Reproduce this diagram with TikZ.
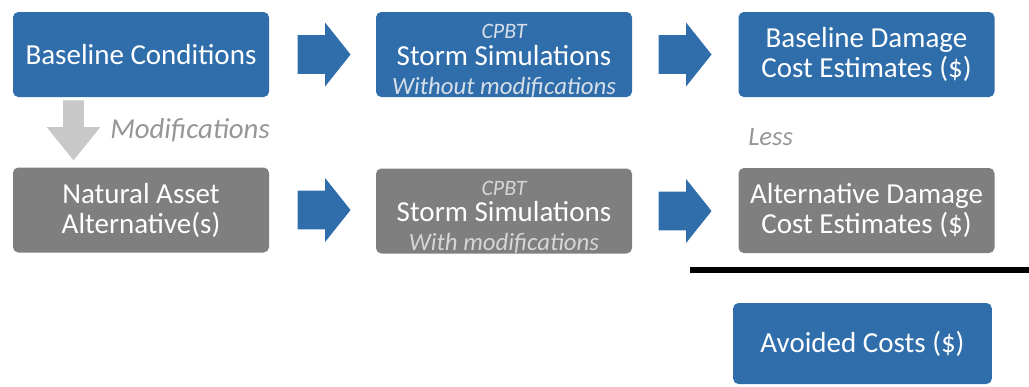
\documentclass[tikz,border=0pt]{standalone}
\usepackage{fontspec}
\setmainfont{Carlito}
\usetikzlibrary{shapes.arrows, calc}
\definecolor{boxblue}{RGB}{47,110,171}
\definecolor{boxgrey}{RGB}{127,127,127}
\definecolor{notegrey}{RGB}{150,150,150}
\definecolor{downgrey}{RGB}{200,200,200}
\definecolor{subblue}{RGB}{214,222,232}
\definecolor{subgrey}{RGB}{214,214,214}
\newcommand{\cpbtfont}{\fontsize{16.5}{21}\selectfont\itshape}
\newcommand{\modfont}{\fontsize{18.6}{21.75}\selectfont\itshape}

\begin{document}
\begin{tikzpicture}[x=0.75pt, y=-0.75pt,
    box/.style={rectangle, rounded corners=4pt, minimum width=192pt, minimum height=63.75pt,
        inner sep=0pt, text=white, align=center, font=\fontsize{21.75}{22.5}\selectfont},
    bluebox/.style={box, fill=boxblue},
    greybox/.style={box, fill=boxgrey},
    simbox/.style={font=\fontsize{21.75}{21.4}\selectfont, text height=59.25pt, text depth=0pt},
    flow/.style={single arrow, fill=boxblue, inner xsep=0pt, inner ysep=14.25pt, minimum height=39.75pt,
        single arrow head extend=9.4pt, single arrow tip angle=103, anchor=tail},
    note/.style={text=notegrey, font=\fontsize{21.6}{22}\selectfont\itshape, inner sep=0pt}]

    \useasboundingbox (0,0) rectangle (1029,386);

    % Boxes
    \node[bluebox] (base) at (141,54.5) {Baseline Conditions};
    \node[bluebox, simbox] (simbase) at (504,54.5)
        {{\cpbtfont\color{subblue}CPBT}\\[-1.5pt]Storm Simulations\\{\modfont\color{subblue}Without modifications}};
    \node[bluebox] (costbase) at (866.5,54.5) {Baseline Damage\\Cost Estimates (\$)};

    \node[greybox] (alt) at (141,210) {Natural Asset\\Alternative(s)};
    \node[greybox, simbox] (simalt) at (504,211)
        {{\cpbtfont\color{subgrey}CPBT}\\[-1.5pt]Storm Simulations\\{\modfont\color{subgrey}With modifications}};
    \node[greybox] (costalt) at (866.5,210.5) {Alternative Damage\\Cost Estimates (\$)};

    \node[bluebox, minimum width=194pt, minimum height=60.75pt] (avoided) at (862.5,343.5) {Avoided Costs (\$)};

    % Arrows
    \node[flow] (f1) at ($(base.east)+(28,0)$) {};
    \node[flow] (f2) at ($(simbase.east)+(26,0)$) {};
    \node[flow] (f3) at ($(alt.east)+(28,0)$) {};
    \node[flow] (f4) at ($(simalt.east)+(26,0)$) {};

    \node[single arrow, shape border rotate=270, fill=downgrey, inner sep=7.5pt, minimum height=45pt,
        single arrow head extend=12.4pt, single arrow tip angle=78, anchor=tail] (down) at (73.5,100) {};

    % Labels
    \node[note, anchor=base west] (mods) at (110,138) {Modifications};
    \node[note, anchor=base west, font=\fontsize{20}{22}\selectfont\itshape] (less) at (748,145) {Less};

    % Sum line
    \coordinate (lineL) at (690,269.5);
    \coordinate (lineR) at (1029,269.5);
    \draw[line width=4.5pt] (lineL) -- (lineR);
\end{tikzpicture}
\end{document}
